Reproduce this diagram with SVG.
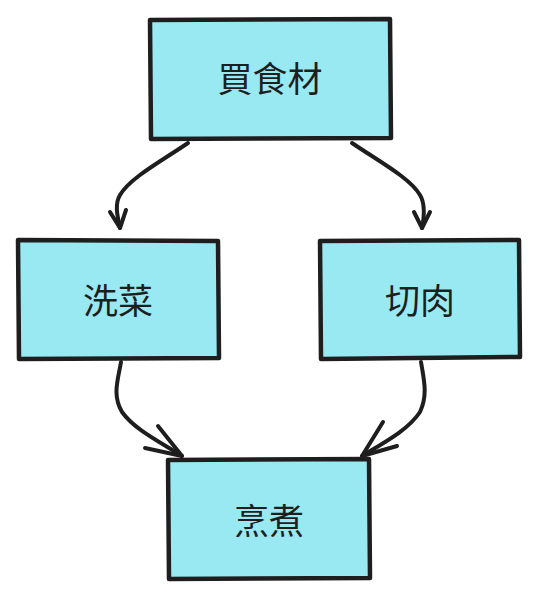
<svg xmlns="http://www.w3.org/2000/svg" width="540" height="600" viewBox="0 0 540 600">
<defs>
<style>
.box{fill:#99e9f2;stroke:#1e1e1e;stroke-width:4.5;stroke-linejoin:round;stroke-linecap:round}
.lbl{font-family:"Noto Sans CJK TC","Noto Sans CJK SC",sans-serif;font-size:35px;fill:#1e1e1e;text-anchor:middle;dominant-baseline:central}
.edge{fill:none;stroke:#1e1e1e;stroke-width:4;stroke-linecap:round;stroke-linejoin:round}
</style>
</defs>
<rect width="540" height="600" fill="#ffffff"/>
<g id="connectors">
<path class="edge" d="M188,143 C160,162 130,178 120,195 C114,205 118,218 120,228"/>
<path class="edge" d="M110,212 L120,228 L126,210"/>
<path class="edge" d="M352,143 C380,162 410,178 420,195 C426,205 424,218 422,228"/>
<path class="edge" d="M414,212 L422,228 L430,212"/>
<path class="edge" d="M121,362 C118,380 112,395 122,412 C135,430 160,442 182,456"/>
<path class="edge" d="M158,426 L182,456 L145,448"/>
<path class="edge" d="M421,362 C424,380 428,395 420,412 C408,430 385,442 362,456"/>
<path class="edge" d="M383,422 L362,456 L397,446"/>
</g>
<g id="node-buy">
<path class="box" d="M150,20 L390,19 L391,138 L151,139 Z"/>
<text class="lbl" x="270" y="76">買食材</text>
</g>
<g id="node-wash">
<path class="box" d="M18,240 L218,241 L219,358 L19,359 Z"/>
<text class="lbl" x="118" y="298">洗菜</text>
</g>
<g id="node-cut">
<path class="box" d="M320,241 L519,240 L520,357 L321,359 Z"/>
<text class="lbl" x="420" y="298">切肉</text>
</g>
<g id="node-cook">
<path class="box" d="M168,460 L369,459 L370,578 L169,579 Z"/>
<text class="lbl" x="269" y="518">烹煮</text>
</g>
</svg>
